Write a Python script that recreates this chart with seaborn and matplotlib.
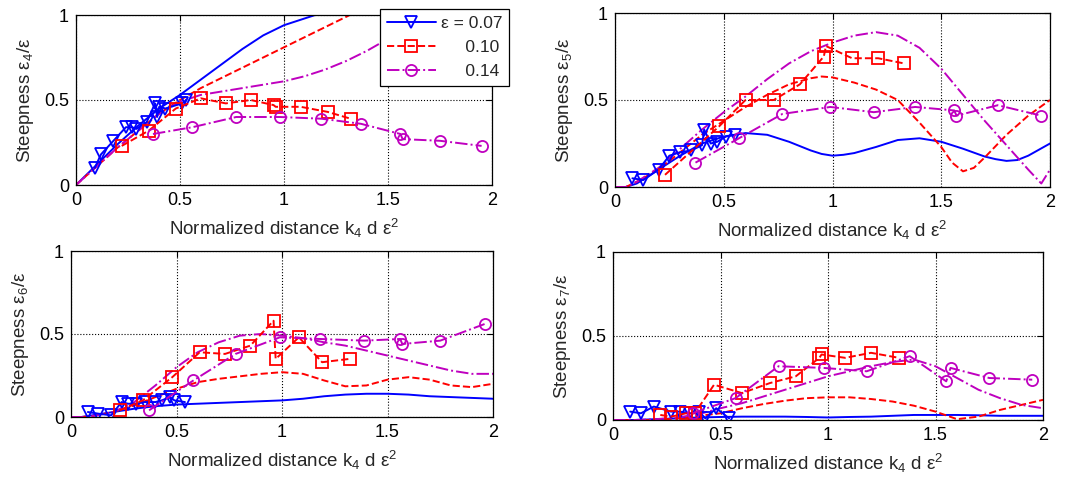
import matplotlib
matplotlib.use('Agg')
import matplotlib.pyplot as plt
from matplotlib.lines import Line2D
import seaborn as sns

# ---- theory curves (lines only) ----
# panel 1 : eps_4 / eps
p1_blue_x = [0, 0.1, 0.2, 0.3, 0.4, 0.5, 0.6, 0.7, 0.8, 0.9, 1.0, 1.1, 1.2, 1.3]
p1_blue_y = [0, 0.12, 0.24, 0.35, 0.45, 0.53, 0.62, 0.71, 0.80, 0.88, 0.94, 0.98, 1.02, 1.04]
p1_red_x = [0, 0.1, 0.2, 0.3, 0.4, 0.5, 0.6, 0.7, 0.8, 0.9, 1.0, 1.1, 1.2, 1.3, 1.4]
p1_red_y = [0, 0.11, 0.22, 0.32, 0.42, 0.50, 0.57, 0.63, 0.69, 0.75, 0.81, 0.87, 0.93, 0.99, 1.05]
p1_mag_x = [0, 0.1, 0.2, 0.3, 0.4, 0.5, 0.6, 0.7, 0.8, 0.9, 1.0, 1.1, 1.2, 1.3, 1.4, 1.5, 1.6, 1.7, 1.8, 1.9, 2.0]
p1_mag_y = [0, 0.11, 0.22, 0.32, 0.42, 0.49, 0.53, 0.55, 0.57, 0.59, 0.61, 0.64, 0.68, 0.73, 0.79, 0.86, 0.93, 1.0, 1.07, 1.14, 1.2]

# panel 2 : eps_5 / eps
x_full = [0, 0.05, 0.1, 0.2, 0.3, 0.4, 0.5, 0.6, 0.7, 0.8, 0.9, 1.0, 1.1, 1.2, 1.3, 1.4, 1.5, 1.6, 1.7, 1.8, 1.9, 2.0]
p2_blue_x = [0, 0.05, 0.1, 0.2, 0.3, 0.4, 0.5, 0.6, 0.7, 0.8, 0.9, 0.95, 1.0, 1.05, 1.1, 1.2, 1.3, 1.4, 1.5, 1.6, 1.7, 1.75, 1.8, 1.85, 1.9, 2.0]
p2_blue_y = [0, 0, 0.02, 0.10, 0.18, 0.25, 0.29, 0.31, 0.30, 0.26, 0.21, 0.19, 0.18, 0.185, 0.195, 0.23, 0.27, 0.28, 0.26, 0.22, 0.175, 0.16, 0.15, 0.155, 0.18, 0.25]
p2_red_x = [0, 0.05, 0.1, 0.2, 0.3, 0.4, 0.5, 0.6, 0.7, 0.8, 0.9, 0.95, 1.0, 1.1, 1.2, 1.3, 1.4, 1.5, 1.55, 1.6, 1.65, 1.7, 1.8, 1.9, 2.0]
p2_red_y = [0, 0, 0.03, 0.10, 0.20, 0.30, 0.38, 0.46, 0.53, 0.59, 0.625, 0.635, 0.63, 0.60, 0.56, 0.50, 0.37, 0.23, 0.14, 0.09, 0.11, 0.17, 0.30, 0.41, 0.50]
p2_mag_x = [0, 0.05, 0.1, 0.2, 0.3, 0.4, 0.5, 0.6, 0.7, 0.8, 0.9, 1.0, 1.1, 1.2, 1.3, 1.4, 1.5, 1.6, 1.7, 1.8, 1.9, 1.96, 2.0]
p2_mag_y = [0, 0, 0.03, 0.11, 0.22, 0.33, 0.43, 0.52, 0.62, 0.71, 0.78, 0.83, 0.87, 0.89, 0.87, 0.80, 0.68, 0.53, 0.38, 0.24, 0.10, 0.02, 0.10]

# panel 3 : eps_6 / eps
p3_blue_y = [0, 0, 0.01, 0.03, 0.05, 0.065, 0.075, 0.08, 0.085, 0.09, 0.095, 0.10, 0.11, 0.125, 0.135, 0.14, 0.14, 0.135, 0.125, 0.12, 0.115, 0.11]
p3_red_y = [0, 0, 0.005, 0.03, 0.07, 0.12, 0.17, 0.21, 0.23, 0.245, 0.26, 0.27, 0.26, 0.22, 0.185, 0.19, 0.225, 0.24, 0.225, 0.19, 0.18, 0.2]
p3_mag_y = [0, 0, 0.005, 0.03, 0.09, 0.19, 0.30, 0.39, 0.45, 0.49, 0.50, 0.49, 0.475, 0.45, 0.43, 0.40, 0.37, 0.34, 0.31, 0.28, 0.26, 0.26]

# panel 4 : eps_7 / eps
p4_blue_y = [0, 0, 0, 0.005, 0.01, 0.015, 0.018, 0.02, 0.02, 0.02, 0.018, 0.015, 0.018, 0.02, 0.025, 0.03, 0.03, 0.03, 0.028, 0.025, 0.025, 0.025]
p4_red_y = [0, 0, 0, 0, 0.01, 0.025, 0.04, 0.07, 0.095, 0.115, 0.13, 0.135, 0.135, 0.125, 0.11, 0.085, 0.05, 0.005, 0.02, 0.06, 0.09, 0.12]
p4_mag_y = [0, 0, 0, 0.005, 0.015, 0.035, 0.07, 0.10, 0.14, 0.18, 0.22, 0.26, 0.29, 0.32, 0.345, 0.36, 0.32, 0.25, 0.18, 0.13, 0.09, 0.07]

# ---- measurements (lines + markers) ----
p1_tri_x = [0.09, 0.12, 0.18, 0.24, 0.27, 0.29, 0.34, 0.38, 0.39, 0.40, 0.43, 0.51, 0.53]
p1_tri_y = [0.10, 0.18, 0.26, 0.34, 0.34, 0.33, 0.37, 0.48, 0.40, 0.46, 0.45, 0.48, 0.50]
p1_sq_x = [0.22, 0.35, 0.48, 0.60, 0.72, 0.84, 0.95, 0.96, 1.08, 1.21, 1.32]
p1_sq_y = [0.23, 0.32, 0.45, 0.51, 0.48, 0.50, 0.47, 0.46, 0.46, 0.43, 0.39]
p1_ci_x = [0.37, 0.56, 0.77, 0.98, 1.18, 1.37, 1.56, 1.57, 1.75, 1.95]
p1_ci_y = [0.30, 0.34, 0.40, 0.40, 0.39, 0.36, 0.30, 0.27, 0.26, 0.23]

p2_tri_x = [0.08, 0.13, 0.20, 0.25, 0.30, 0.35, 0.40, 0.41, 0.44, 0.47, 0.51, 0.55]
p2_tri_y = [0.05, 0.04, 0.10, 0.18, 0.20, 0.21, 0.24, 0.33, 0.25, 0.26, 0.29, 0.30]
p2_sq_x = [0.23, 0.48, 0.60, 0.73, 0.85, 0.96, 0.97, 1.09, 1.21, 1.33]
p2_sq_y = [0.07, 0.35, 0.50, 0.50, 0.59, 0.75, 0.81, 0.74, 0.74, 0.71]
p2_ci_x = [0.37, 0.57, 0.77, 0.99, 1.19, 1.38, 1.56, 1.57, 1.76, 1.96]
p2_ci_y = [0.14, 0.28, 0.42, 0.46, 0.43, 0.46, 0.44, 0.41, 0.47, 0.41]

p3_tri_x = [0.08, 0.13, 0.19, 0.24, 0.27, 0.31, 0.35, 0.40, 0.43, 0.47, 0.49, 0.54]
p3_tri_y = [0.03, 0.02, 0.01, 0.09, 0.08, 0.08, 0.09, 0.09, 0.10, 0.12, 0.10, 0.09]
p3_sq_x = [0.23, 0.34, 0.48, 0.61, 0.73, 0.85, 0.96, 0.97, 1.08, 1.19, 1.32]
p3_sq_y = [0.04, 0.10, 0.24, 0.39, 0.38, 0.43, 0.58, 0.35, 0.48, 0.33, 0.35]
p3_ci_x = [0.37, 0.58, 0.78, 0.99, 1.18, 1.39, 1.56, 1.57, 1.75, 1.96]
p3_ci_y = [0.04, 0.22, 0.38, 0.48, 0.47, 0.46, 0.47, 0.44, 0.46, 0.56]

p4_tri_x = [0.08, 0.13, 0.19, 0.27, 0.31, 0.36, 0.40, 0.43, 0.48, 0.54]
p4_tri_y = [0.05, 0.04, 0.08, 0.05, 0.05, 0.04, 0.05, 0.01, 0.07, 0.01]
p4_sq_x = [0.22, 0.27, 0.34, 0.38, 0.47, 0.60, 0.73, 0.85, 0.96, 0.97, 1.08, 1.20, 1.33]
p4_sq_y = [0.03, 0.02, 0.04, 0.04, 0.21, 0.16, 0.22, 0.26, 0.37, 0.39, 0.37, 0.40, 0.37]
p4_ci_x = [0.37, 0.57, 0.77, 0.98, 1.18, 1.38, 1.55, 1.57, 1.75, 1.95]
p4_ci_y = [0.04, 0.13, 0.32, 0.31, 0.29, 0.38, 0.23, 0.31, 0.25, 0.24]

eps_labels = ['\u03b5 = 0.07', '     0.10', '     0.14']
orders = ['4', '5', '6', '7']

BLUE, RED, MAG = '#0000ff', '#ff0000', '#bf00bf'
colors = [BLUE, RED, MAG]
styles = ['-', '--', '-.']
marks = ['v', 's', 'o']

sns.set_style('white')
plt.rcParams['font.family'] = ['Liberation Sans', 'DejaVu Sans']
plt.rcParams['mathtext.fontset'] = 'custom'
plt.rcParams['mathtext.rm'] = 'Liberation Sans'
plt.rcParams['mathtext.it'] = 'Liberation Sans'

panels = [
    ([(p1_blue_x, p1_blue_y), (p1_red_x, p1_red_y), (p1_mag_x, p1_mag_y)],
     [(p1_tri_x, p1_tri_y), (p1_sq_x, p1_sq_y), (p1_ci_x, p1_ci_y)]),
    ([(p2_blue_x, p2_blue_y), (p2_red_x, p2_red_y), (p2_mag_x, p2_mag_y)],
     [(p2_tri_x, p2_tri_y), (p2_sq_x, p2_sq_y), (p2_ci_x, p2_ci_y)]),
    ([(x_full, p3_blue_y), (x_full, p3_red_y), (x_full, p3_mag_y)],
     [(p3_tri_x, p3_tri_y), (p3_sq_x, p3_sq_y), (p3_ci_x, p3_ci_y)]),
    ([(x_full, p4_blue_y), (x_full, p4_red_y), (x_full, p4_mag_y)],
     [(p4_tri_x, p4_tri_y), (p4_sq_x, p4_sq_y), (p4_ci_x, p4_ci_y)]),
]

# axes rectangles in figure fractions (left, bottom, width, height)
rects = [
    [76 / 1070, 295 / 480, 416 / 1070, 170 / 480],
    [615 / 1070, 293 / 480, 435 / 1070, 174 / 480],
    [71 / 1070, 63 / 480, 422 / 1070, 166 / 480],
    [613 / 1070, 60 / 480, 430 / 1070, 168 / 480],
]

fig = plt.figure(figsize=(10.7, 4.8), dpi=100)

for (theory, meas), rect, n in zip(panels, rects, orders):
    ax = fig.add_axes(rect)
    for (x, y), c, ls in zip(theory, colors, styles):
        sns.lineplot(x=x, y=y, ax=ax, color=c, linestyle=ls, lw=1.4,
                     estimator=None, sort=False)
    for (x, y), c, ls, m in zip(meas, colors, styles, marks):
        sns.lineplot(x=x, y=y, ax=ax, color=c, linestyle=ls, lw=1.4,
                     marker=m, markersize=8, markerfacecolor='none',
                     markeredgecolor=c, markeredgewidth=1.3,
                     estimator=None, sort=False)
    ax.set_xlim(0, 2)
    ax.set_ylim(0, 1)
    ax.set_xticks([0, 0.5, 1, 1.5, 2])
    ax.set_xticklabels(['0', '0.5', '1', '1.5', '2'])
    ax.set_yticks([0, 0.5, 1])
    ax.set_yticklabels(['0', '0.5', '1'])
    ax.grid(True, color='black', linestyle=':', linewidth=0.8)
    ax.tick_params(direction='in', length=4, labelsize=13, top=True, right=True,
                   pad=5, colors='black')
    for sp in ax.spines.values():
        sp.set_color('black')
        sp.set_linewidth(0.9)
    ax.set_xlabel('Normalized distance k$_4$ d \u03b5$^2$', fontsize=13.5, labelpad=6)
    ax.set_ylabel('Steepness \u03b5$_' + n + '$/\u03b5', fontsize=13.5, labelpad=6)

handles = [Line2D([], [], color=c, linestyle=ls, lw=1.4, marker=m, markersize=8,
                  markerfacecolor='none', markeredgewidth=1.3)
           for c, ls, m in zip(colors, styles, marks)]
leg = fig.legend(handles, eps_labels, loc='upper left',
                 bbox_to_anchor=(380 / 1070, 1 - 9 / 480), fontsize=12.5,
                 frameon=True, fancybox=False, framealpha=1, edgecolor='black',
                 handlelength=2.8, borderpad=0.4, labelspacing=0.5, handletextpad=0.3,
                 borderaxespad=0)
leg.get_frame().set_linewidth(0.9)

fig.savefig('out.png', dpi=100)
